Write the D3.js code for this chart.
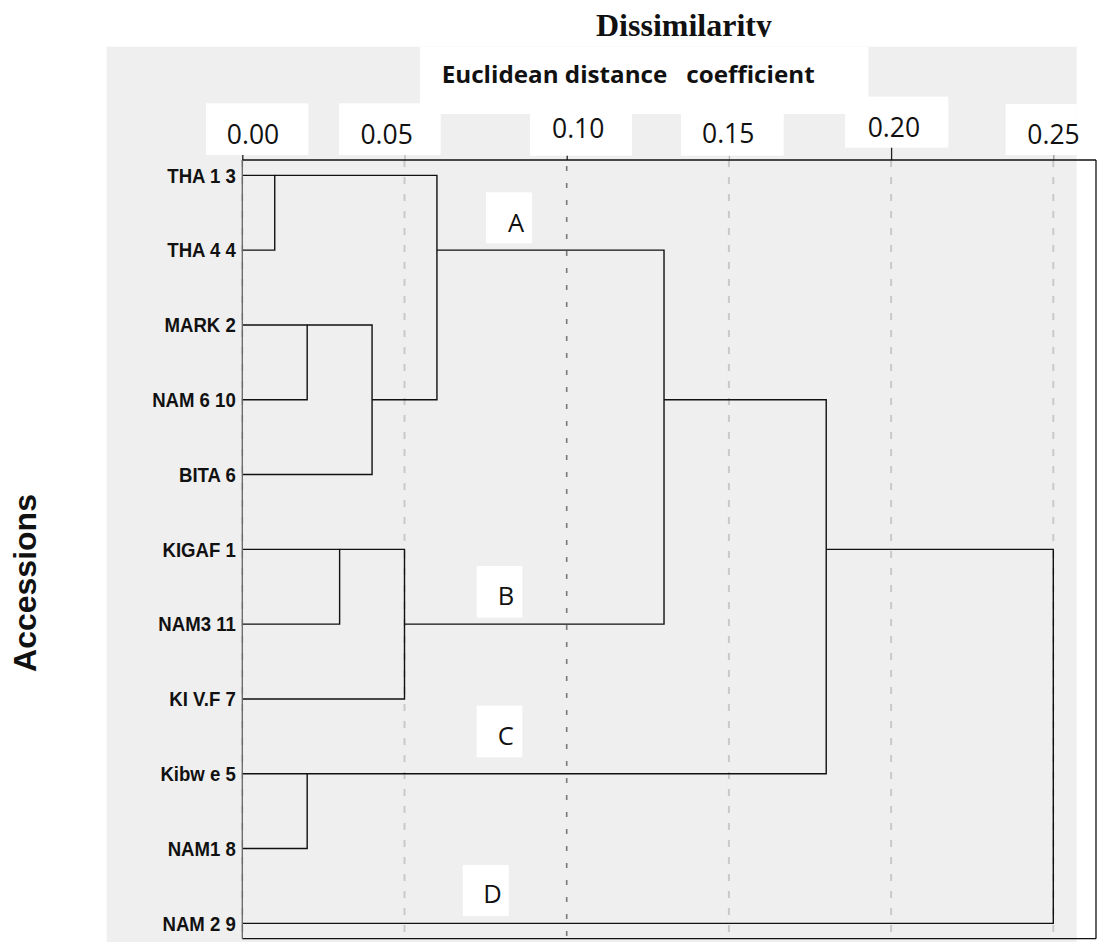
<!DOCTYPE html>
<html>
<head>
<meta charset="utf-8">
<script src="https://cdn.jsdelivr.net/npm/d3@7"></script>
<style>
  html, body { margin: 0; padding: 0; background: #ffffff; }
  svg { display: block; }
</style>
</head>
<body>
<svg id="chart" width="1097" height="942"></svg>
<script>
// Accessions in dendrogram (leaf) order, top to bottom
const accessions = ["THA 1 3", "THA 4 4", "MARK 2", "NAM 6 10", "BITA 6",
                    "KIGAF 1", "NAM3 11", "KI V.F 7", "Kibw e 5", "NAM1 8", "NAM 2 9"];

// Agglomeration steps: ids 0-10 are accessions, step i creates cluster id 11 + i
const mergeLeft   = [0,    2,    12,   11,   5,    15,   8,    14,   18,   19];
const mergeRight  = [1,    3,    4,    13,   6,    7,    9,    16,   17,   10];
const mergeHeight = [0.01, 0.02, 0.04, 0.06, 0.03, 0.05, 0.02, 0.13, 0.18, 0.25];

// Distance axis
const tickValues = [0, 0.05, 0.10, 0.15, 0.20, 0.25];
const tickLabels = ["0.00", "0.05", "0.10", "0.15", "0.20", "0.25"];

// Cluster tags
const clusterTags = ["A", "B", "C", "D"];

// ---------- layout ----------
const frame = { left: 242.3, right: 1096, top: 160, bottom: 938.7 };
const panel = { x: 106.7, y: 46.7, w: 970, h: 895.3 };
// white cut-outs over the grey panel behind the titles and tick labels: [x, y, w, h]
const whitePatches = [
  [420, 46.7, 448.3, 67.3],
  [206, 103.3, 102.3, 51.7],
  [339, 103.3, 101.7, 51.7],
  [530, 110, 102, 45.7],
  [681, 114, 102.7, 41.7],
  [845, 96.7, 103.3, 51],
  [1005.7, 104, 71, 51]
];
// tick label placement: horizontal shift from the tick, baseline y
const tickLabelPos = [[10.2, 144], [-18.4, 144], [11, 137.7], [-1.2, 143.3], [2.3, 136.7], [-0.3, 144]];
const tickColors = ["#222", "#b5b5b5", "#222", "#b5b5b5", "#222", "#9a9a9a"];
// cluster tag boxes: box x, box y, box w, box h, letter x, baseline y
const tagPos = [
  [486, 192.3, 46, 51, 516, 231.7],
  [476.7, 566, 45.6, 51.7, 506, 605],
  [476.7, 705.7, 45.6, 51.6, 505.8, 745],
  [462.8, 865, 46, 51, 492.4, 903.3]
];

const svg = d3.select("#chart");

const x = d3.scaleLinear().domain([0, 0.25]).range([242.3, 1053.3]);
const y = d3.scalePoint().domain(d3.range(accessions.length))
  .range([frame.top, frame.bottom]).padding(0.205);

// grey panel
svg.append("rect")
  .attr("x", panel.x).attr("y", panel.y)
  .attr("width", panel.w).attr("height", panel.h)
  .attr("fill", "#efefef");

// vertical dashed grid lines
svg.append("g").selectAll("line")
  .data(tickValues)
  .join("line")
  .attr("x1", d => x(d)).attr("x2", d => x(d))
  .attr("y1", d => d === 0.10 ? frame.top + 6 : frame.top)
  .attr("y2", d => d === 0.10 ? 942 : frame.bottom)
  .attr("stroke", d => d === 0.10 ? "#7a7a7a" : "#c9c9c9")
  .attr("stroke-width", d => d === 0.10 ? 1.6 : 2)
  .attr("stroke-dasharray", d => d === 0.10 ? "5,12" : "7,10");

// tick marks above the distance axis
const tickAxis = svg.append("g")
  .attr("transform", `translate(0,${frame.top})`)
  .call(d3.axisTop(x).tickValues(tickValues).tickFormat("").tickSize(13));
tickAxis.select(".domain").remove();
tickAxis.selectAll(".tick line")
  .attr("stroke", (d, i) => tickColors[i])
  .attr("stroke-width", 1.3);

// white cut-outs
svg.append("g").selectAll("rect")
  .data(whitePatches)
  .join("rect")
  .attr("x", d => d[0]).attr("y", d => d[1])
  .attr("width", d => d[2]).attr("height", d => d[3])
  .attr("fill", "#ffffff");

// tick labels
const labelAxis = svg.append("g")
  .attr("transform", `translate(0,${frame.top})`)
  .call(d3.axisTop(x).tickValues(tickValues)
    .tickFormat((d, i) => tickLabels[i]).tickSize(0).tickPadding(0));
labelAxis.select(".domain").remove();
labelAxis.selectAll(".tick text")
  .attr("font-family", "'Open Sans', sans-serif")
  .attr("font-size", 26.5)
  .attr("fill", "#111")
  .attr("dy", null)
  .attr("dx", (d, i) => tickLabelPos[i][0])
  .attr("y", (d, i) => tickLabelPos[i][1] - frame.top);

// titles
svg.append("clipPath").attr("id", "titleClip")
  .append("rect").attr("x", 0).attr("y", 0).attr("width", 1097).attr("height", 37);
svg.append("text")
  .attr("clip-path", "url(#titleClip)")
  .attr("x", 684).attr("y", 36)
  .attr("text-anchor", "middle")
  .attr("font-family", "'Liberation Serif', 'Times New Roman', serif")
  .attr("font-weight", "bold")
  .attr("font-size", 32)
  .attr("fill", "#111")
  .text("Dissimilarity");

svg.append("text")
  .attr("x", 441.7).attr("y", 83.3)
  .attr("font-family", "'Open Sans', sans-serif")
  .attr("font-weight", "bold")
  .attr("font-size", 24)
  .attr("fill", "#111")
  .attr("textLength", 373)
  .attr("lengthAdjust", "spacingAndGlyphs")
  .style("white-space", "pre")
  .text("Euclidean distance   coefficient");

svg.append("text")
  .attr("transform", "translate(36,583) rotate(-90)")
  .attr("text-anchor", "middle")
  .attr("font-family", "'Liberation Sans', Arial, sans-serif")
  .attr("font-weight", "bold")
  .attr("font-size", 32)
  .attr("fill", "#111")
  .text("Accessions");

// accession labels (slightly condensed bold face)
svg.append("g").selectAll("text")
  .data(accessions)
  .join("text")
  .attr("transform", (d, i) => `translate(${frame.left - 6.5},${y(i) + 7.3}) scale(0.93,1)`)
  .attr("text-anchor", "end")
  .attr("font-family", "'Liberation Sans', Arial, sans-serif")
  .attr("font-weight", "bold")
  .attr("font-size", 20)
  .attr("fill", "#111")
  .text(d => d);

// cluster tags
const tags = svg.append("g").selectAll("g")
  .data(clusterTags)
  .join("g");
tags.append("rect")
  .attr("x", (d, i) => tagPos[i][0]).attr("y", (d, i) => tagPos[i][1])
  .attr("width", (d, i) => tagPos[i][2]).attr("height", (d, i) => tagPos[i][3])
  .attr("fill", "#ffffff");
tags.append("text")
  .attr("x", (d, i) => tagPos[i][4]).attr("y", (d, i) => tagPos[i][5])
  .attr("text-anchor", "middle")
  .attr("font-family", "'Open Sans', sans-serif")
  .attr("font-size", 25.5)
  .attr("fill", "#111")
  .text(d => d);

// dendrogram: each cluster joins at its merge height; its outgoing branch
// leaves from the member row nearest the middle of its two children
const nLeaves = accessions.length;
const rowOf = d3.range(nLeaves);
const heightOf = d3.range(nLeaves).map(() => 0);
const links = mergeLeft.map((l, i) => {
  const r = mergeRight[i];
  const h = mergeHeight[i];
  const link = { l, r, h, rl: rowOf[l], rr: rowOf[r], hl: heightOf[l], hr: heightOf[r] };
  rowOf.push(Math.floor((rowOf[l] + rowOf[r]) / 2));
  heightOf.push(h);
  return link;
});

svg.append("g").selectAll("path")
  .data(links)
  .join("path")
  .attr("fill", "none")
  .attr("stroke", "#111")
  .attr("stroke-width", 1.4)
  .attr("d", d => {
    const p = d3.path();
    p.moveTo(x(d.hl), y(d.rl));
    p.lineTo(x(d.h), y(d.rl));
    p.lineTo(x(d.h), y(d.rr));
    p.lineTo(x(d.hr), y(d.rr));
    return p.toString();
  });

// plot frame
const fr = svg.append("g").attr("fill", "none").attr("stroke-width", 1.3);
fr.append("line").attr("x1", frame.left).attr("x2", frame.right)
  .attr("y1", frame.top).attr("y2", frame.top).attr("stroke", "#111");
fr.append("line").attr("x1", frame.left).attr("x2", frame.right)
  .attr("y1", frame.bottom).attr("y2", frame.bottom).attr("stroke", "#111");
fr.append("line").attr("x1", frame.right).attr("x2", frame.right)
  .attr("y1", frame.top).attr("y2", frame.bottom).attr("stroke", "#111");
fr.append("line").attr("x1", frame.left).attr("x2", frame.left)
  .attr("y1", frame.top).attr("y2", frame.bottom).attr("stroke", "#666");
</script>
</body>
</html>
